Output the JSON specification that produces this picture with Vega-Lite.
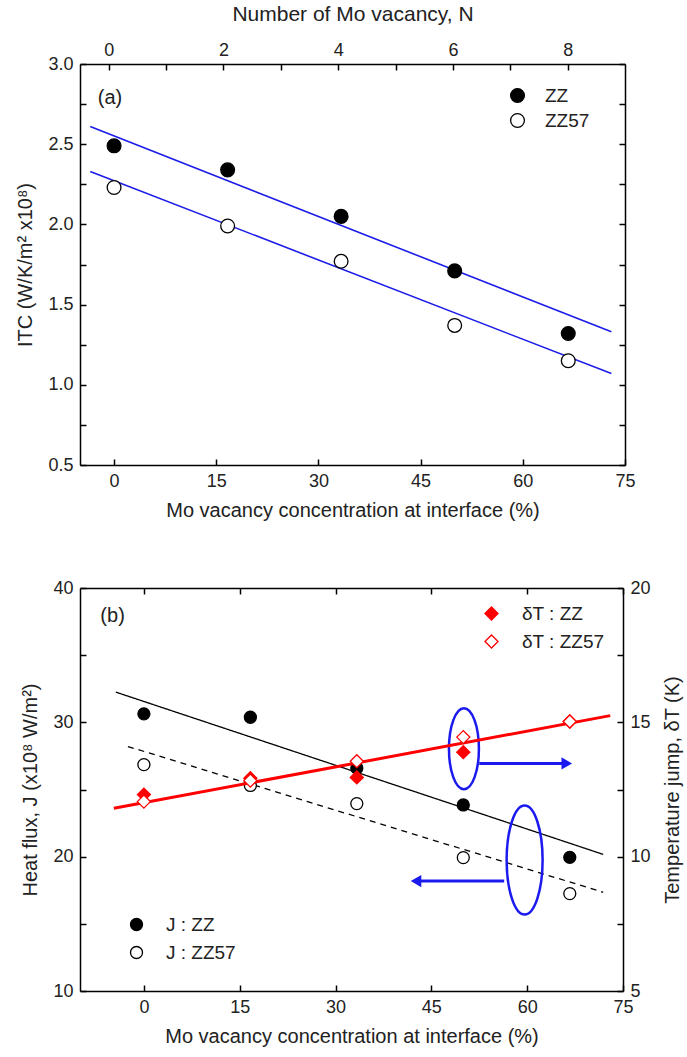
{
  "$schema": "https://vega.github.io/schema/vega-lite/v6.json",
  "background": "white",
  "padding": {"left": 15, "top": 3, "right": 5, "bottom": 5},
  "spacing": 59,
  "config": {
    "view": {"stroke": null},
    "font": "Liberation Sans",
    "axis": {
      "grid": false,
      "domainColor": "black",
      "domainWidth": 1.5,
      "tickColor": "black",
      "tickWidth": 1.5,
      "tickSize": -6,
      "labelPadding": 13,
      "labelFont": "Liberation Sans",
      "labelFontSize": 18,
      "labelColor": "#222222",
      "labelFlush": false,
      "labelOverlap": false,
      "labelBound": false,
      "titleFont": "Liberation Sans",
      "titleFontSize": 20,
      "titleFontWeight": "normal",
      "titleColor": "#222222"
    },
    "legend": {
      "labelFont": "Liberation Sans",
      "labelFontSize": 19,
      "labelColor": "#222222",
      "rowPadding": 5,
      "padding": 0
    }
  },
  "datasets": {
    "ptsA": [
      {"pct": 0, "N": 0, "ITC": 2.49, "series": "ZZ"},
      {"pct": 16.67, "N": 2, "ITC": 2.34, "series": "ZZ"},
      {"pct": 33.33, "N": 4, "ITC": 2.05, "series": "ZZ"},
      {"pct": 50, "N": 6, "ITC": 1.71, "series": "ZZ"},
      {"pct": 66.67, "N": 8, "ITC": 1.32, "series": "ZZ"},
      {"pct": 0, "N": 0, "ITC": 2.23, "series": "ZZ57"},
      {"pct": 16.67, "N": 2, "ITC": 1.99, "series": "ZZ57"},
      {"pct": 33.33, "N": 4, "ITC": 1.77, "series": "ZZ57"},
      {"pct": 50, "N": 6, "ITC": 1.37, "series": "ZZ57"},
      {"pct": 66.67, "N": 8, "ITC": 1.15, "series": "ZZ57"}
    ],
    "linesA": [
      {"pct": -3.5, "ITC": 2.61, "series": "ZZ"},
      {"pct": 73, "ITC": 1.33, "series": "ZZ"},
      {"pct": -3.5, "ITC": 2.33, "series": "ZZ57"},
      {"pct": 73, "ITC": 1.07, "series": "ZZ57"}
    ],
    "ptsJ": [
      {"pct": 0, "J": 30.63, "label": "J : ZZ"},
      {"pct": 16.67, "J": 30.38, "label": "J : ZZ"},
      {"pct": 33.33, "J": 26.6, "label": "J : ZZ"},
      {"pct": 50, "J": 23.85, "label": "J : ZZ"},
      {"pct": 66.67, "J": 19.95, "label": "J : ZZ"},
      {"pct": 0, "J": 26.85, "label": "J : ZZ57"},
      {"pct": 16.67, "J": 25.3, "label": "J : ZZ57"},
      {"pct": 33.33, "J": 23.95, "label": "J : ZZ57"},
      {"pct": 50, "J": 19.93, "label": "J : ZZ57"},
      {"pct": 66.67, "J": 17.25, "label": "J : ZZ57"}
    ],
    "linesJ": [
      {"pct": -4.4, "J": 32.25, "label": "J : ZZ"},
      {"pct": 71.9, "J": 20.17, "label": "J : ZZ"},
      {"pct": -2.5, "J": 28.2, "label": "J : ZZ57"},
      {"pct": 71.9, "J": 17.35, "label": "J : ZZ57"}
    ],
    "ptsT": [
      {"pct": 0, "dT": 12.31, "label": "δT : ZZ"},
      {"pct": 16.67, "dT": 12.92, "label": "δT : ZZ"},
      {"pct": 33.33, "dT": 12.95, "label": "δT : ZZ"},
      {"pct": 50, "dT": 13.89, "label": "δT : ZZ"},
      {"pct": 66.67, "dT": 15.03, "label": "δT : ZZ"},
      {"pct": 0, "dT": 12.05, "label": "δT : ZZ57"},
      {"pct": 16.67, "dT": 12.83, "label": "δT : ZZ57"},
      {"pct": 33.33, "dT": 13.55, "label": "δT : ZZ57"},
      {"pct": 50, "dT": 14.45, "label": "δT : ZZ57"},
      {"pct": 66.67, "dT": 15.03, "label": "δT : ZZ57"}
    ],
    "lineT": [
      {"pct": -4.7, "dT": 11.8},
      {"pct": 73, "dT": 15.25}
    ]
  },
  "vconcat": [
    {
      "width": 545,
      "height": 401,
      "layer": [
        {
          "layer": [
            {
              "data": {"name": "linesA"},
              "mark": {"type": "line", "color": "#1c1ce8", "strokeWidth": 1.6},
              "encoding": {
                "x": {"field": "pct", "type": "quantitative",
                  "scale": {"domain": [-5, 75], "nice": false, "zero": false},
                  "axis": {"values": [0, 15, 30, 45, 60, 75], "title": "Mo vacancy concentration at interface (%)", "titlePadding": 10}},
                "y": {"field": "ITC", "type": "quantitative",
                  "scale": {"domain": [0.5, 3.0], "nice": false, "zero": false},
                  "axis": {"values": [0.5, 0.75, 1.0, 1.25, 1.5, 1.75, 2.0, 2.25, 2.5, 2.75, 3.0],
                    "labelExpr": "abs(datum.value*2 - round(datum.value*2)) < 0.001 ? format(datum.value, '.1f') : ''",
                    "title": "ITC (W/K/m² x10⁸)", "titlePadding": 12}},
                "detail": {"field": "series"}
              }
            },
            {
              "data": {"name": "ptsA"},
              "mark": {"type": "point", "shape": "circle", "size": 190, "filled": true, "stroke": "black", "strokeWidth": 1.3, "opacity": 1},
              "encoding": {
                "x": {"field": "pct", "type": "quantitative"},
                "y": {"field": "ITC", "type": "quantitative"},
                "fill": {"field": "series", "type": "nominal",
                  "scale": {"domain": ["ZZ", "ZZ57"], "range": ["black", "white"]},
                  "legend": {"title": null, "orient": "none", "legendX": 428, "legendY": 22,
                    "symbolType": "circle", "symbolSize": 190, "symbolStrokeColor": "black", "symbolStrokeWidth": 1.3,
                    "labelOffset": 18}}
              }
            },
            {
              "data": {"values": [{}]},
              "mark": {"type": "text", "text": "(a)", "fontSize": 20, "font": "Liberation Sans", "color": "#222222", "align": "center", "baseline": "middle"},
              "encoding": {"x": {"datum": -0.6}, "y": {"datum": 2.79}}
            }
          ]
        },
        {
          "data": {"name": "ptsA"},
          "mark": {"type": "point", "opacity": 0},
          "encoding": {
            "x": {"field": "N", "type": "quantitative",
              "scale": {"domain": [-0.5, 9], "nice": false, "zero": false},
              "axis": {"orient": "top", "values": [0, 1, 2, 3, 4, 5, 6, 7, 8],
                "labelExpr": "datum.value % 2 == 0 ? datum.label : ''", "labelPadding": 11,
                "title": "Number of Mo vacancy, N", "titleFontSize": 21, "titlePadding": 17}},
            "y": {"field": "ITC", "type": "quantitative",
              "scale": {"domain": [0.5, 3.0], "nice": false, "zero": false},
              "axis": {"orient": "right", "labels": false, "title": null,
                "values": [0.5, 0.75, 1.0, 1.25, 1.5, 1.75, 2.0, 2.25, 2.5, 2.75, 3.0]}}
          }
        }
      ],
      "resolve": {"scale": {"x": "independent", "y": "independent"}}
    },
    {
      "width": 543,
      "height": 403,
      "layer": [
        {
          "layer": [
            {
              "data": {"name": "linesJ"},
              "mark": {"type": "line", "color": "black", "strokeWidth": 1.3},
              "encoding": {
                "x": {"field": "pct", "type": "quantitative",
                  "scale": {"domain": [-10, 75], "nice": false, "zero": false},
                  "axis": {"values": [0, 15, 30, 45, 60, 75], "title": "Mo vacancy concentration at interface (%)", "titlePadding": 10}},
                "y": {"field": "J", "type": "quantitative",
                  "scale": {"domain": [10, 40], "nice": false, "zero": false},
                  "axis": {"values": [10, 15, 20, 25, 30, 35, 40],
                    "labelExpr": "datum.value % 10 == 0 ? datum.label : ''",
                    "title": "Heat flux, J (x10⁸ W/m²)", "titlePadding": 12}},
                "strokeDash": {"field": "label", "type": "nominal",
                  "scale": {"domain": ["J : ZZ", "J : ZZ57"], "range": [[1, 0], [6, 5]]}, "legend": null}
              }
            },
            {
              "data": {"values": [{}]},
              "mark": {"type": "point", "shape": "M0,-1A0.37,1 0 1,1 0,1A0.37,1 0 1,1 0,-1Z", "size": 6561, "filled": false, "stroke": "#1a1aef", "strokeWidth": 2.5, "opacity": 1},
              "encoding": {"x": {"datum": 50.1}, "y": {"datum": 28.03}}
            },
            {
              "data": {"values": [{}]},
              "mark": {"type": "point", "shape": "M0,-1A0.33,1 0 1,1 0,1A0.33,1 0 1,1 0,-1Z", "size": 11881, "filled": false, "stroke": "#1a1aef", "strokeWidth": 2.5, "opacity": 1},
              "encoding": {"x": {"datum": 59.6}, "y": {"datum": 19.75}}
            },
            {
              "data": {"values": [{}]},
              "mark": {"type": "rule", "color": "#1a1aef", "strokeWidth": 3},
              "encoding": {"x": {"datum": 52.5}, "x2": {"datum": 65.5}, "y": {"datum": 26.94}}
            },
            {
              "data": {"values": [{}]},
              "mark": {"type": "point", "shape": "triangle-right", "size": 150, "filled": true, "color": "#1a1aef", "opacity": 1},
              "encoding": {"x": {"datum": 66.2}, "y": {"datum": 26.94}}
            },
            {
              "data": {"values": [{}]},
              "mark": {"type": "rule", "color": "#1a1aef", "strokeWidth": 3},
              "encoding": {"x": {"datum": 56.4}, "x2": {"datum": 43.3}, "y": {"datum": 18.18}}
            },
            {
              "data": {"values": [{}]},
              "mark": {"type": "point", "shape": "triangle-left", "size": 150, "filled": true, "color": "#1a1aef", "opacity": 1},
              "encoding": {"x": {"datum": 42.6}, "y": {"datum": 18.18}}
            },
            {
              "data": {"values": [{}]},
              "mark": {"type": "text", "text": "(b)", "fontSize": 20, "font": "Liberation Sans", "color": "#222222", "align": "center", "baseline": "middle"},
              "encoding": {"x": {"datum": -4.9}, "y": {"datum": 37.9}}
            },
            {
              "data": {"name": "ptsJ"},
              "mark": {"type": "point", "shape": "circle", "size": 144, "filled": true, "stroke": "black", "strokeWidth": 1.3, "opacity": 1},
              "encoding": {
                "x": {"field": "pct", "type": "quantitative"},
                "y": {"field": "J", "type": "quantitative"},
                "fill": {"field": "label", "type": "nominal",
                  "scale": {"domain": ["J : ZZ", "J : ZZ57"], "range": ["black", "white"]},
                  "legend": {"title": null, "orient": "none", "legendX": 47, "legendY": 327,
                    "symbolType": "circle", "symbolSize": 144, "symbolStrokeColor": "black", "symbolStrokeWidth": 1.3,
                    "labelOffset": 20, "rowPadding": 8}}
              }
            }
          ]
        },
        {
          "layer": [
            {
              "data": {"name": "lineT"},
              "mark": {"type": "line", "color": "#ff0000", "strokeWidth": 3},
              "encoding": {
                "x": {"field": "pct", "type": "quantitative",
                  "scale": {"domain": [-10, 75], "nice": false, "zero": false},
                  "axis": {"orient": "top", "values": [0, 15, 30, 45, 60, 75], "labels": false, "title": null}},
                "y": {"field": "dT", "type": "quantitative",
                  "scale": {"domain": [5, 20], "nice": false, "zero": false},
                  "axis": {"orient": "right", "values": [5, 7.5, 10, 12.5, 15, 17.5, 20],
                    "labelExpr": "datum.value % 5 == 0 ? datum.label : ''",
                    "title": "Temperature jump, δT (K)", "titleAngle": 270, "titleBaseline": "top", "titlePadding": 12}}
              }
            },
            {
              "data": {"name": "ptsT"},
              "mark": {"type": "point", "shape": "diamond", "size": 170, "filled": true, "stroke": "#ff0000", "strokeWidth": 1.3, "opacity": 1},
              "encoding": {
                "x": {"field": "pct", "type": "quantitative"},
                "y": {"field": "dT", "type": "quantitative"},
                "fill": {"field": "label", "type": "nominal",
                  "scale": {"domain": ["δT : ZZ", "δT : ZZ57"], "range": ["#ff0000", "white"]},
                  "legend": {"title": null, "orient": "none", "legendX": 402, "legendY": 16,
                    "symbolType": "diamond", "symbolSize": 170, "symbolStrokeColor": "#ff0000", "symbolStrokeWidth": 1.3,
                    "labelOffset": 21, "rowPadding": 8}}
              }
            }
          ]
        }
      ],
      "resolve": {"scale": {"x": "independent", "y": "independent", "fill": "independent"}, "legend": {"fill": "independent"}}
    }
  ]
}
